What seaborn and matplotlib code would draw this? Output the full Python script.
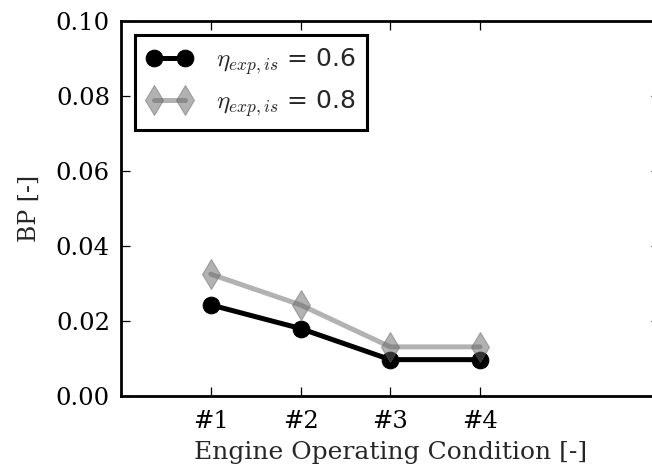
import numpy as np
import pandas as pd
import matplotlib
matplotlib.use("Agg")
import matplotlib.pyplot as plt
import seaborn as sns

# Operating points and brake-power penalty for two expander efficiencies
conditions = ["#1", "#2", "#3", "#4"]
bp_eta_06 = [0.0243, 0.0180, 0.0097, 0.0097]
bp_eta_08 = [0.0325, 0.0243, 0.0131, 0.0131]
series_labels = [r"$\eta_{exp,is}$ = 0.6", r"$\eta_{exp,is}$ = 0.8"]
y_ticks = [0.00, 0.02, 0.04, 0.06, 0.08, 0.10]

sns.set_style("ticks")
plt.rcParams["font.family"] = ["DejaVu Serif"]
plt.rcParams["mathtext.fontset"] = "cm"

pos = np.arange(1, len(conditions) + 1)
df = pd.DataFrame({"pos": np.concatenate([pos, pos]),
                   "bp": bp_eta_06 + bp_eta_08,
                   "series": [series_labels[0]] * len(pos) + [series_labels[1]] * len(pos)})

fig = plt.figure(figsize=(6.52, 4.71), dpi=100)
ax = fig.add_axes([0.1856, 0.1592, 0.826, 0.7962])

d0 = df[df["series"] == series_labels[0]]
d1 = df[df["series"] == series_labels[1]]
sns.lineplot(data=d0, x="pos", y="bp", ax=ax, color="black", marker="o",
             markersize=12, linewidth=3.6, markeredgecolor="black",
             label=series_labels[0])
sns.lineplot(data=d1, x="pos", y="bp", ax=ax, color="#666666", alpha=0.5,
             marker="d", markersize=15, linewidth=3.6, markeredgecolor="#666666",
             label=series_labels[1])

ax.set_xlim(0, 6)
ax.set_ylim(0, 0.10)
ax.set_xticks(pos)
ax.set_xticklabels(conditions)
ax.set_yticks(y_ticks)
ax.set_yticklabels([f"{t:.2f}" for t in y_ticks])

for s in ax.spines.values():
    s.set_visible(True)
    s.set_linewidth(2.0)
    s.set_color("black")
ax.tick_params(direction="in", length=6.5, width=0.9, top=True, right=True,
               labelsize=17.5, pad=8, colors="black")
ax.tick_params(axis="x", pad=10)

ax.set_xlabel("Engine Operating Condition [-]", fontsize=18, labelpad=6)
ax.set_ylabel("BP [-]", fontsize=17, labelpad=11)

leg = ax.legend(loc="upper left", prop={"family": "DejaVu Sans", "size": 18},
                frameon=True, fancybox=False, borderaxespad=0.55,
                numpoints=2, handlelength=1.85, handletextpad=0.95,
                borderpad=0.45, labelspacing=0.45)
fr = leg.get_frame()
fr.set_edgecolor("black")
fr.set_linewidth(2.2)
fr.set_alpha(1)

fig.savefig("out.png", dpi=100)
